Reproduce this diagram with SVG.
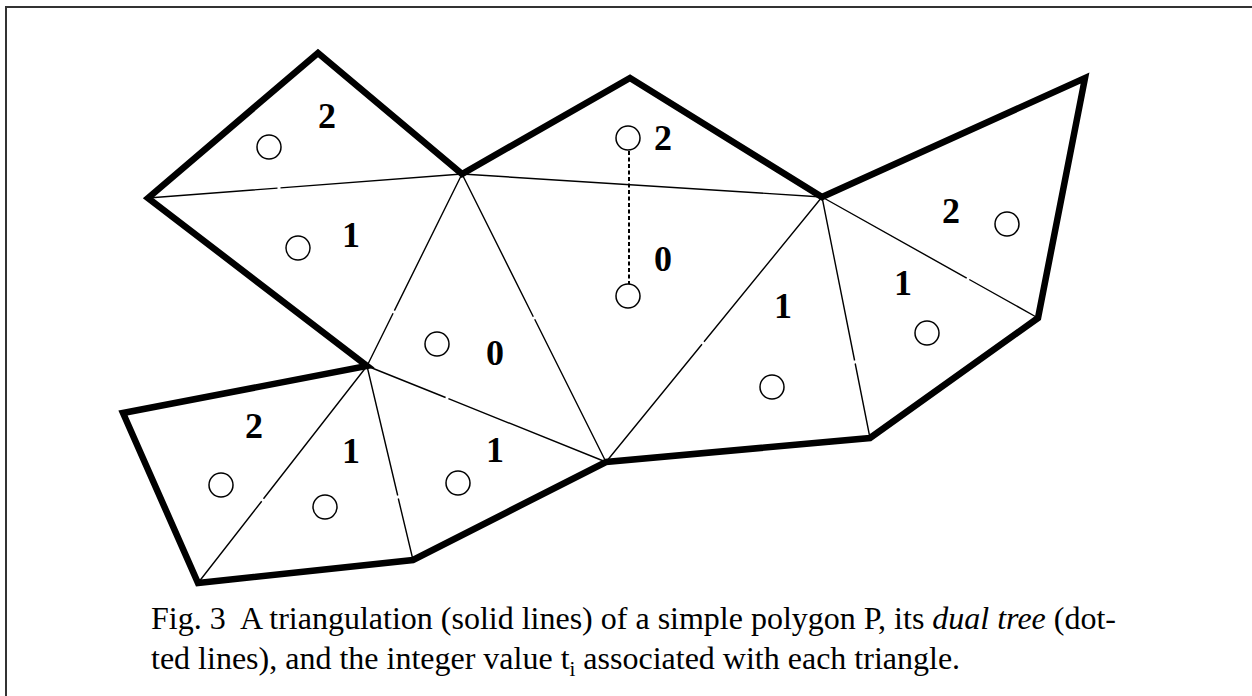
<svg xmlns="http://www.w3.org/2000/svg" width="1252" height="696" viewBox="0 0 1252 696">
  <style>
    .frame { stroke: #333; stroke-width: 2; fill: none; }
    .outline { fill: none; stroke: #000; stroke-width: 6.5; stroke-linejoin: miter; stroke-miterlimit: 10; }
    .diag { fill: none; stroke: #000; stroke-width: 1.4; }
    .dual { fill: none; stroke: #000; stroke-width: 2; stroke-dasharray: 4 2.5; }
    .node circle { fill: #fff; stroke: #000; stroke-width: 1.5; }
    .node text { font-family: "Liberation Serif", "Times New Roman", serif; font-weight: bold; font-size: 36px; text-anchor: middle; fill: #000; }
    .caption { font-family: "Liberation Serif", "Times New Roman", serif; font-size: 32px; fill: #000; white-space: pre; }
  </style>
  <rect width="1252" height="696" fill="#fff"/>

  <!-- page frame (top and left edges) -->
  <path class="frame" d="M6 696 V7 H1252"/>

  <!-- polygon P -->
  <g id="polygon">
    <path class="outline" d="M462 174 L318 53 L148 198 L367 366 L123 413 L198 583 L413 560 L606 462 L870 438 L1038 318 L1085 78 L822 197 L630 78 Z"/>
  </g>

  <!-- triangulation diagonals and dual tree edge -->
  <g id="connectors">
    <path class="diag" d="M148 198 L277.5 188.1 M280.5 187.9 L462 174"/>
    <path class="diag" d="M462 174 L394.4 310.6 M393.1 313.3 L367 366"/>
    <path class="diag" d="M462 174 L533.3 316.7 M534.7 319.3 L606 462"/>
    <path class="diag" d="M462 174 L822 197"/>
    <path class="diag" d="M822 197 L704 341.8 M702 344.2 L606 462"/>
    <path class="diag" d="M822 197 L966.7 278.1 M969.3 279.5 L1038 318"/>
    <path class="diag" d="M822 197 L854.6 360.5 M855.2 363.5 L870 438"/>
    <path class="diag" d="M367 366 L263.5 498.8 M261.7 501.2 L198 583"/>
    <path class="diag" d="M367 366 L397.7 495.5 M398.3 498.5 L413 560"/>
    <path class="diag" d="M367 366 L445.6 397.5 M448.4 398.6 L606 462"/>
    <path class="dual" d="M629 151 V284"/>
  </g>

  <!-- triangles: dual-tree node and value t_i -->
  <g id="t1" class="node"><circle cx="269" cy="147" r="12"/><text x="327" y="128">2</text></g>
  <g id="t2" class="node"><circle cx="298" cy="248" r="12"/><text x="351" y="247">1</text></g>
  <g id="t3" class="node"><circle cx="437" cy="344" r="12"/><text x="495" y="365">0</text></g>
  <g id="t4" class="node"><circle cx="628" cy="138" r="12"/><text x="663" y="150">2</text></g>
  <g id="t5" class="node"><circle cx="628" cy="296" r="12"/><text x="663" y="271">0</text></g>
  <g id="t6" class="node"><circle cx="772" cy="387" r="12"/><text x="783" y="318">1</text></g>
  <g id="t7" class="node"><circle cx="1007" cy="224" r="12"/><text x="951" y="223">2</text></g>
  <g id="t8" class="node"><circle cx="927" cy="333" r="12"/><text x="903" y="295">1</text></g>
  <g id="t9" class="node"><circle cx="221" cy="485" r="12"/><text x="254" y="438">2</text></g>
  <g id="t10" class="node"><circle cx="325" cy="507" r="12"/><text x="351" y="463">1</text></g>
  <g id="t11" class="node"><circle cx="458" cy="483" r="12"/><text x="495" y="462">1</text></g>

  <!-- caption -->
  <text class="caption" x="151" y="628.5">Fig. 3  A triangulation (solid lines) of a simple polygon P, its <tspan font-style="italic">dual tree</tspan> (dot-</text>
  <text class="caption" x="151" y="669">ted lines), and the integer value t<tspan font-size="21" dy="7">i</tspan><tspan dy="-7"> associated with each triangle.</tspan></text>
</svg>
